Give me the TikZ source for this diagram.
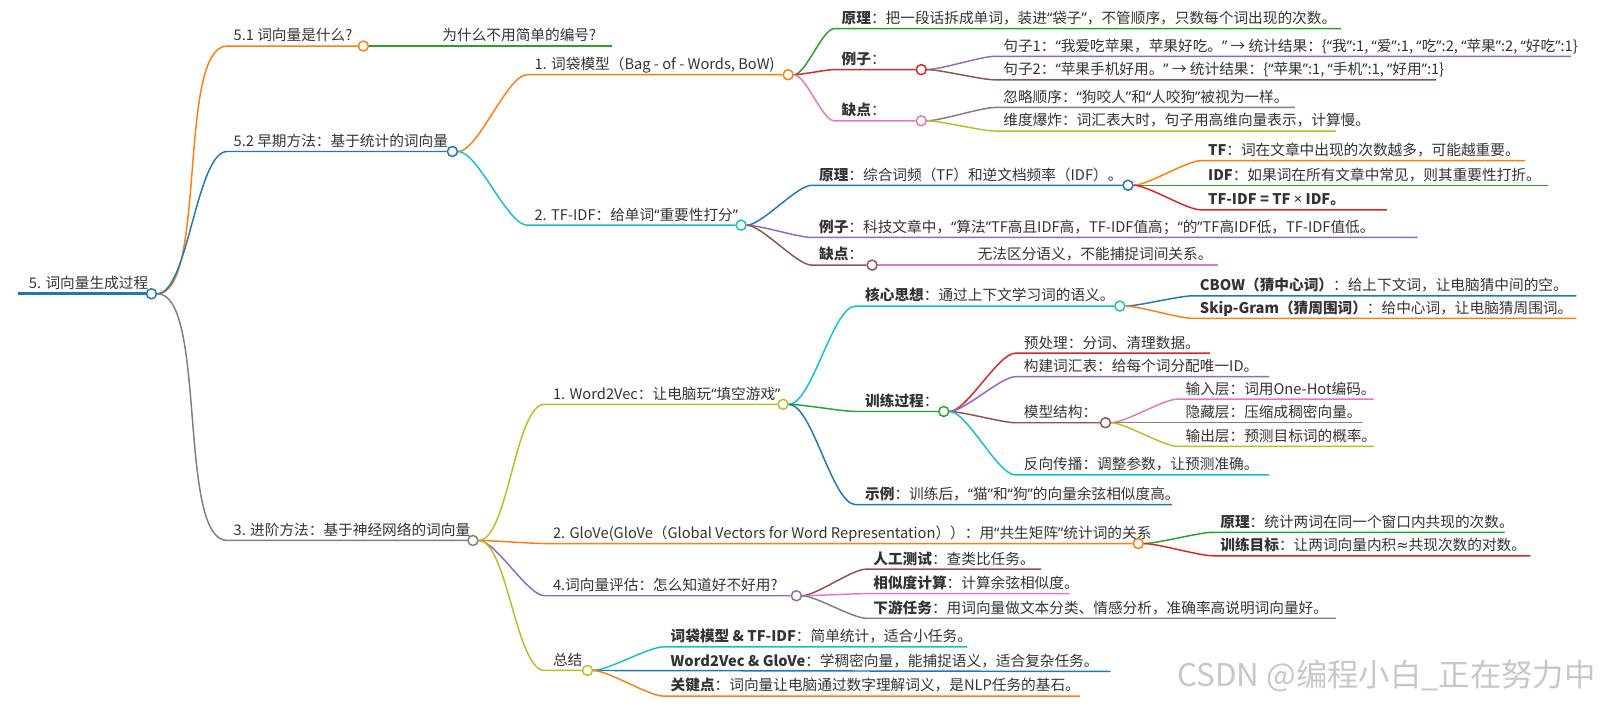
\documentclass[tikz,border=0pt]{standalone}
\usepackage{fontspec}
\setmainfont{Noto Sans CJK SC}
\newfontfamily\latinfont{Noto Sans}
\newfontfamily\symfont{DejaVu Sans}
\newcommand{\lqu}{{\latinfont “}}
\newcommand{\rqu}{{\latinfont ”}}
\newcommand{\approxsign}{{\symfont ≈}}
\usetikzlibrary{positioning}

\definecolor{cblue}{HTML}{1F77B4}
\definecolor{corange}{HTML}{FF7F0E}
\definecolor{cgreen}{HTML}{2CA02C}
\definecolor{cred}{HTML}{D62728}
\definecolor{cpurple}{HTML}{9467BD}
\definecolor{cbrown}{HTML}{8C564B}
\definecolor{cpink}{HTML}{E377C2}
\definecolor{cgray}{HTML}{7F7F7F}
\definecolor{colive}{HTML}{BCBD22}
\definecolor{ccyan}{HTML}{17BECF}
\definecolor{txtgray}{HTML}{333333}

\tikzset{
  topic/.style={anchor=base west, inner sep=0pt, text=txtgray, font=\fontsize{11}{13}\selectfont},
  dot/.style={circle, draw, fill=white, line width=1.1pt, minimum size=7.5pt, inner sep=0pt},
  branch/.style={line width=1.1pt},
  twig/.style={out=0, in=180, looseness=0.5},
}

\begin{document}
\begin{tikzpicture}[x=0.7677pt, y=-0.7677pt]
\useasboundingbox (0,0) rectangle (1568,689);

% root
\coordinate (rootS) at (18,287);
\node[topic] (root) at (28,282) {5. 词向量生成过程};
\node[dot,draw=cblue] (rootC) at (148,287) {};
\draw[cblue,line width=2.2pt] (rootS) -- (rootC);

% 5.1
\coordinate (whatS) at (222,45);
\node[topic] (what) at (228,40) {5.1 词向量是什么?};
\node[dot,draw=corange] (whatC) at (355,45) {};
\draw[branch,corange] (rootC) to[twig] (whatS) -- (whatC);
\coordinate (whyE) at (598,45);
\node[topic] (why) at (432,40) {为什么不用简单的编号?};
\draw[branch,cgreen] (whatC) -- (whyE);

% 5.2
\coordinate (earlyS) at (222,148);
\node[topic] (early) at (228,143) {5.2 早期方法：基于统计的词向量};
\node[dot,draw=cblue] (earlyC) at (442,148) {};
\draw[branch,cblue] (rootC) to[twig] (earlyS) -- (earlyC);

% bag of words
\coordinate (bowS) at (515,73);
\node[topic] (bow) at (522,68) {1. 词袋模型（Bag - of - Words, BoW)};
\node[dot,draw=corange] (bowC) at (770,73) {};
\draw[branch,corange] (earlyC) to[twig] (bowS) -- (bowC);

\coordinate (bowIdeaS) at (815,28);
\coordinate (bowIdeaE) at (1310,28);
\node[topic] (bowIdea) at (822,23) {\textbf{原理}：把一段话拆成单词，装进\lqu 袋子\rqu，不管顺序，只数每个词出现的次数。};
\draw[branch,cgreen] (bowC) to[twig] (bowIdeaS) -- (bowIdeaE);

\coordinate (bowExS) at (815,68);
\node[topic] (bowEx) at (822,63) {\textbf{例子}：};
\node[dot,draw=cred] (bowExC) at (900,68) {};
\draw[branch,cred] (bowC) to[twig] (bowExS) -- (bowExC);

\coordinate (sentAS) at (972,55);
\coordinate (sentAE) at (1535,55);
\node[topic] (sentA) at (980,50) {句子1：\lqu 我爱吃苹果，苹果好吃。\rqu{} → 统计结果：\{\lqu 我\rqu:1, \lqu 爱\rqu:1, \lqu 吃\rqu:2, \lqu 苹果\rqu:2, \lqu 好吃\rqu:1\}};
\draw[branch,cpurple] (bowExC) to[twig] (sentAS) -- (sentAE);

\coordinate (sentBS) at (972,78);
\coordinate (sentBE) at (1403,78);
\node[topic] (sentB) at (980,73) {句子2：\lqu 苹果手机好用。\rqu{} → 统计结果：\{\lqu 苹果\rqu:1, \lqu 手机\rqu:1, \lqu 好用\rqu:1\}};
\draw[branch,cbrown] (bowExC) to[twig] (sentBS) -- (sentBE);

\coordinate (bowConS) at (815,118);
\node[topic] (bowCon) at (822,113) {\textbf{缺点}：};
\node[dot,draw=cpink] (bowConC) at (900,118) {};
\draw[branch,cpink] (bowC) to[twig] (bowConS) -- (bowConC);

\coordinate (orderS) at (972,105);
\coordinate (orderE) at (1265,105);
\node[topic] (order) at (980,100) {忽略顺序：\lqu 狗咬人\rqu 和\lqu 人咬狗\rqu 被视为一样。};
\draw[branch,cgray] (bowConC) to[twig] (orderS) -- (orderE);

\coordinate (dimS) at (972,128);
\coordinate (dimE) at (1305,128);
\node[topic] (dim) at (980,123) {维度爆炸：词汇表大时，句子用高维向量表示，计算慢。};
\draw[branch,colive] (bowConC) to[twig] (dimS) -- (dimE);

% tf-idf
\coordinate (tfidfS) at (515,220);
\node[topic] (tfidf) at (522,215) {2. TF-IDF：给单词\lqu 重要性打分\rqu};
\node[dot,draw=ccyan] (tfidfC) at (724,220) {};
\draw[branch,ccyan] (earlyC) to[twig] (tfidfS) -- (tfidfC);

\coordinate (tfIdeaS) at (793,181);
\node[topic] (tfIdea) at (800,176) {\textbf{原理}：综合词频（TF）和逆文档频率（IDF）。};
\node[dot,draw=cblue] (tfIdeaC) at (1102,181) {};
\draw[branch,cblue] (tfidfC) to[twig] (tfIdeaS) -- (tfIdeaC);

\coordinate (tfS) at (1173,157);
\coordinate (tfE) at (1490,157);
\node[topic] (tf) at (1180,152) {\textbf{TF}：词在文章中出现的次数越多，可能越重要。};
\draw[branch,corange] (tfIdeaC) to[twig] (tfS) -- (tfE);

\coordinate (idfE) at (1512,181);
\node[topic] (idf) at (1180,176) {\textbf{IDF}：如果词在所有文章中常见，则其重要性打折。};
\draw[branch,cgreen] (tfIdeaC) -- (idfE);

\coordinate (prodS) at (1173,205);
\coordinate (prodE) at (1355,205);
\node[topic] (prod) at (1180,200) {\textbf{TF-IDF = TF {\latinfont ×} IDF。}};
\draw[branch,cred] (tfIdeaC) to[twig] (prodS) -- (prodE);

\coordinate (tfExS) at (793,232);
\coordinate (tfExE) at (1385,232);
\node[topic] (tfEx) at (800,227) {\textbf{例子}：科技文章中，\lqu 算法\rqu TF高且IDF高，TF-IDF值高；\lqu 的\rqu TF高IDF低，TF-IDF值低。};
\draw[branch,cpurple] (tfidfC) to[twig] (tfExS) -- (tfExE);

\coordinate (tfConS) at (793,259);
\node[topic] (tfCon) at (800,254) {\textbf{缺点}：};
\node[dot,draw=cbrown] (tfConC) at (852,259) {};
\draw[branch,cbrown] (tfidfC) to[twig] (tfConS) -- (tfConC);
\coordinate (semE) at (1190,259);
\node[topic] (sem) at (955,254) {无法区分语义，不能捕捉词间关系。};
\draw[branch,cpink] (tfConC) -- (semE);

% 3. advanced
\coordinate (advS) at (222,528);
\node[topic] (adv) at (228,523) {3. 进阶方法：基于神经网络的词向量};
\node[dot,draw=cgray] (advC) at (462,528) {};
\draw[branch,cgray] (rootC) to[twig] (advS) -- (advC);

% word2vec
\coordinate (w2vS) at (532,395);
\node[topic] (w2v) at (540,390) {1. Word2Vec：让电脑玩\lqu 填空游戏\rqu};
\node[dot,draw=colive] (w2vC) at (765,395) {};
\draw[branch,colive] (advC) to[twig] (w2vS) -- (w2vC);

\coordinate (coreS) at (836,299);
\node[topic] (core) at (845,294) {\textbf{核心思想}：通过上下文学习词的语义。};
\node[dot,draw=ccyan] (coreC) at (1094,299) {};
\draw[branch,ccyan] (w2vC) to[twig] (coreS) -- (coreC);

\coordinate (cbowS) at (1165,289);
\coordinate (cbowE) at (1540,289);
\node[topic] (cbow) at (1172,284) {\textbf{CBOW（猜中心词）}：给上下文词，让电脑猜中间的空。};
\draw[branch,cblue] (coreC) to[twig] (cbowS) -- (cbowE);

\coordinate (skipS) at (1165,311);
\coordinate (skipE) at (1540,311);
\node[topic] (skip) at (1172,306) {\textbf{Skip-Gram（猜周围词）}：给中心词，让电脑猜周围词。};
\draw[branch,corange] (coreC) to[twig] (skipS) -- (skipE);

\coordinate (trainS) at (836,402);
\node[topic] (train) at (845,397) {\textbf{训练过程}：};
\node[dot,draw=cgreen] (trainC) at (922,402) {};
\draw[branch,cgreen] (w2vC) to[twig] (trainS) -- (trainC);

\coordinate (prepS) at (992,345);
\coordinate (prepE) at (1182,345);
\node[topic] (prep) at (1000,340) {预处理：分词、清理数据。};
\draw[branch,cred] (trainC) to[twig] (prepS) -- (prepE);

\coordinate (vocS) at (992,368);
\coordinate (vocE) at (1240,368);
\node[topic] (voc) at (1000,363) {构建词汇表：给每个词分配唯一ID。};
\draw[branch,cpurple] (trainC) to[twig] (vocS) -- (vocE);

\coordinate (archS) at (992,413);
\node[topic] (arch) at (1000,408) {模型结构：};
\node[dot,draw=cbrown] (archC) at (1080,413) {};
\draw[branch,cbrown] (trainC) to[twig] (archS) -- (archC);

\coordinate (inS) at (1150,390);
\coordinate (inE) at (1342,390);
\node[topic] (inl) at (1158,385) {输入层：词用One-Hot编码。};
\draw[branch,cpink] (archC) to[twig] (inS) -- (inE);

\coordinate (hidE) at (1332,413);
\node[topic] (hid) at (1158,408) {隐藏层：压缩成稠密向量。};
\draw[branch,cgray] (archC) -- (hidE);

\coordinate (outS) at (1150,436);
\coordinate (outE) at (1342,436);
\node[topic] (outl) at (1158,431) {输出层：预测目标词的概率。};
\draw[branch,colive] (archC) to[twig] (outS) -- (outE);

\coordinate (backS) at (992,464);
\coordinate (backE) at (1240,464);
\node[topic] (back) at (1000,459) {反向传播：调整参数，让预测准确。};
\draw[branch,ccyan] (trainC) to[twig] (backS) -- (backE);

\coordinate (demoS) at (836,493);
\coordinate (demoE) at (1145,493);
\node[topic] (demo) at (845,488) {\textbf{示例}：训练后，\lqu 猫\rqu 和\lqu 狗\rqu 的向量余弦相似度高。};
\draw[branch,cblue] (w2vC) to[twig] (demoS) -- (demoE);

% glove
\coordinate (gloveS) at (532,531);
\node[topic] (glove) at (540,526) {2. GloVe(GloVe（Global Vectors for Word Representation））：用\lqu 共生矩阵\rqu 统计词的关系};
\node[dot,draw=corange] (gloveC) at (1112,531) {};
\draw[branch,corange] (advC) to[twig] (gloveS) -- (gloveC);

\coordinate (gIdeaS) at (1185,520);
\coordinate (gIdeaE) at (1470,520);
\node[topic] (gIdea) at (1192,515) {\textbf{原理}：统计两词在同一个窗口内共现的次数。};
\draw[branch,cgreen] (gloveC) to[twig] (gIdeaS) -- (gIdeaE);

\coordinate (gGoalS) at (1185,543);
\coordinate (gGoalE) at (1495,543);
\node[topic] (gGoal) at (1192,538) {\textbf{训练目标}：让两词向量内积\approxsign 共现次数的对数。};
\draw[branch,cred] (gloveC) to[twig] (gGoalS) -- (gGoalE);

% evaluation
\coordinate (evalS) at (532,582);
\node[topic] (eval) at (540,577) {4.词向量评估：怎么知道好不好用?};
\node[dot,draw=cpurple] (evalC) at (778,582) {};
\draw[branch,cpurple] (advC) to[twig] (evalS) -- (evalC);

\coordinate (humS) at (846,556);
\coordinate (humE) at (1017,556);
\node[topic] (hum) at (853,551) {\textbf{人工测试}：查类比任务。};
\draw[branch,cbrown] (evalC) to[twig] (humS) -- (humE);

\coordinate (simS) at (846,580);
\coordinate (simE) at (1045,580);
\node[topic] (sim) at (853,575) {\textbf{相似度计算}：计算余弦相似度。};
\draw[branch,cpink] (evalC) to[twig] (simS) -- (simE);

\coordinate (downS) at (846,604);
\coordinate (downE) at (1305,604);
\node[topic] (down) at (853,599) {\textbf{下游任务}：用词向量做文本分类、情感分析，准确率高说明词向量好。};
\draw[branch,cgray] (evalC) to[twig] (downS) -- (downE);

% summary
\coordinate (sumS) at (532,655);
\node[topic] (sum) at (540,650) {总结};
\node[dot,draw=colive] (sumC) at (574,655) {};
\draw[branch,colive] (advC) to[twig] (sumS) -- (sumC);

\coordinate (sumAS) at (648,632);
\coordinate (sumAE) at (945,632);
\node[topic] (sumA) at (655,627) {\textbf{词袋模型 \& TF-IDF}：简单统计，适合小任务。};
\draw[branch,ccyan] (sumC) to[twig] (sumAS) -- (sumAE);

\coordinate (sumBE) at (1085,656);
\node[topic] (sumB) at (655,651) {\textbf{Word2Vec \& GloVe}：学稠密向量，能捕捉语义，适合复杂任务。};
\draw[branch,cblue] (sumC) -- (sumBE);

\coordinate (sumCS) at (648,680);
\coordinate (sumCE) at (1055,680);
\node[topic] (sumCc) at (655,675) {\textbf{关键点}：词向量让电脑通过数字理解词义，是NLP任务的基石。};
\draw[branch,corange] (sumC) to[twig] (sumCS) -- (sumCE);

% watermark
\node[anchor=base west, inner sep=0pt, text=black!22, font=\fontsize{23.5}{26}\selectfont] (mark) at (1150,671) {CSDN @编程小白\_正在努力中};
\end{tikzpicture}
\end{document}
